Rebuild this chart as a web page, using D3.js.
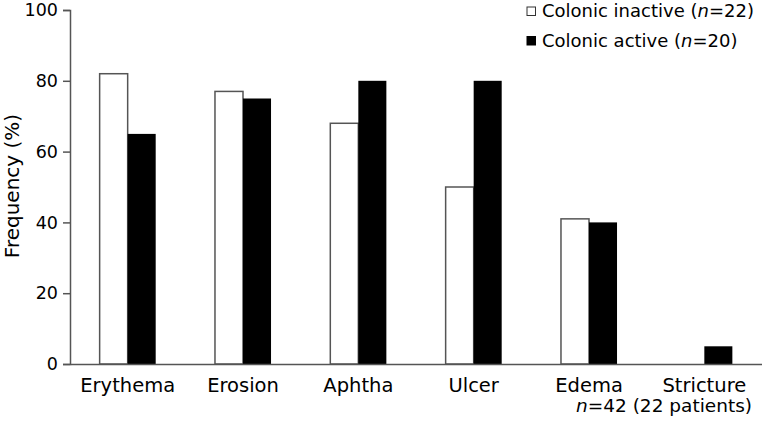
<!DOCTYPE html>
<html><head><meta charset="utf-8">
<script src="https://cdn.jsdelivr.net/npm/d3@7"></script>
<style>body{margin:0;background:#fff}svg{display:block;font-family:"DejaVu Sans",Verdana,sans-serif}</style>
</head><body><svg id="c" width="762" height="423"></svg>
<script>
const categories = ["Erythema","Erosion","Aphtha","Ulcer","Edema","Stricture"];
const inactive = [82, 77, 68, 50, 41, 0];
const active = [65, 75, 80, 80, 40, 5];
const yTicks = [0, 20, 40, 60, 80, 100];
const seriesNames = ["Colonic inactive", "Colonic active"];
const seriesN = [22, 20];

const svg = d3.select("#c");
const x0 = 70, x1 = 762, yb = 364, yt = 10;
const x = d3.scaleBand().domain(categories).range([x0, x1]).paddingInner(0.514).paddingOuter(0.257);
const xs = d3.scaleBand().domain([0,1]).range([0, x.bandwidth()]);
const y = d3.scaleLinear().domain([0,100]).range([yb, yt]);
const axisCol = "#555";

// bars
categories.forEach((c,i)=>{
  const vals=[inactive[i], active[i]];
  vals.forEach((v,j)=>{
    if(v<=0) return;
    svg.append("rect").attr("x", x(c)+xs(j)).attr("y", y(v)).attr("width", xs.bandwidth()).attr("height", y(0)-y(v))
      .attr("fill", j===0?"#fff":"#000").attr("stroke", j===0?axisCol:"none").attr("stroke-width",1.5);
  });
});

// y axis
const ya = svg.append("g").attr("transform",`translate(${x0},0)`).call(d3.axisLeft(y).tickValues(yTicks).tickSize(7).tickPadding(5));
ya.select(".domain").attr("stroke",axisCol).attr("stroke-width",1.5);
ya.selectAll(".tick line").attr("stroke",axisCol).attr("stroke-width",1.5);
ya.selectAll("text").attr("font-size",17.5).attr("fill","#000").attr("font-family","DejaVu Sans");

// x axis
const xa = svg.append("g").attr("transform",`translate(0,${yb})`).call(d3.axisBottom(x).tickSize(0));
xa.select(".domain").attr("stroke",axisCol).attr("stroke-width",1.5);
xa.selectAll("text").attr("font-size",19.5).attr("fill","#000").attr("font-family","DejaVu Sans").attr("dy",0).attr("y",28);

// y label
svg.append("text").attr("transform","translate(19,186) rotate(-90)").attr("text-anchor","middle").attr("font-size",20).text("Frequency (%)");

// legend
seriesNames.forEach((s,j)=>{
  const ly = 17 + j*29.5;
  svg.append("rect").attr("x",527).attr("y",ly-10).attr("width",8.5).attr("height",8.5)
    .attr("fill", j===0?"#fff":"#000").attr("stroke", j===0?"#333":"#000").attr("stroke-width",1);
  const t = svg.append("text").attr("x",542).attr("y",ly).attr("font-size",18);
  t.append("tspan").text(s+" (");
  t.append("tspan").attr("font-style","italic").text("n");
  t.append("tspan").text("="+seriesN[j]+")");
});

// note
const nt = svg.append("text").attr("x",752).attr("y",412).attr("text-anchor","end").attr("font-size",18.5);
nt.append("tspan").attr("font-style","italic").text("n");
nt.append("tspan").text("=42 (22 patients)");
</script></body></html>
